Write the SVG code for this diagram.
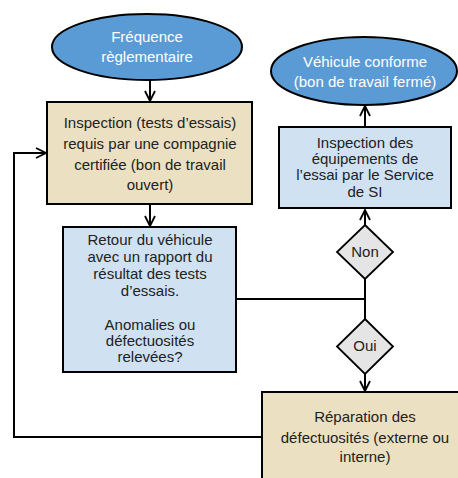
<svg xmlns="http://www.w3.org/2000/svg" width="458" height="478" viewBox="0 0 458 478">
<style>
text{font-family:"Liberation Sans",Arial,sans-serif;font-size:15px;text-anchor:middle;fill:#222}
.w{fill:#fff}
.term{fill:#5B9BD5;stroke:#000;stroke-width:2}
.tan{fill:#EBE0C1;stroke:#000;stroke-width:2}
.blue{fill:#D0E1F2;stroke:#000;stroke-width:2}
.dia{fill:#E5E5E5;stroke:#000;stroke-width:1.8}
.ln{fill:none;stroke:#000;stroke-width:2}
</style>
<defs>
<marker id="a" viewBox="0 0 12 12" refX="11" refY="6" markerWidth="12" markerHeight="12" markerUnits="userSpaceOnUse" orient="auto">
<path d="M1,1 L11,6 L1,11" fill="none" stroke="#000" stroke-width="1.8"/>
</marker>
</defs>
<rect width="458" height="478" fill="#fff"/>
<g id="connectors">
<line class="ln" x1="150" y1="80" x2="150" y2="101" marker-end="url(#a)"/>
<line class="ln" x1="150" y1="204" x2="150" y2="226" marker-end="url(#a)"/>
<line class="ln" x1="365" y1="127" x2="365" y2="106" marker-end="url(#a)"/>
<line class="ln" x1="365" y1="225" x2="365" y2="210" marker-end="url(#a)"/>
<line class="ln" x1="236" y1="299" x2="365" y2="299"/>
<line class="ln" x1="365" y1="279" x2="365" y2="319"/>
<line class="ln" x1="365" y1="374" x2="365" y2="391" marker-end="url(#a)"/>
<polyline class="ln" points="262,437 14,437 14,153 46,153" marker-end="url(#a)"/>
</g>
<g id="n1">
<ellipse class="term" cx="147" cy="47" rx="95" ry="33"/>
<text class="w" x="147" y="42">Fréquence</text>
<text class="w" x="147" y="62">règlementaire</text>
</g>
<g id="n2">
<rect class="tan" x="47" y="102" width="205" height="102"/>
<text x="150" y="128">Inspection (tests d’essais)</text>
<text x="150" y="149">requis par une compagnie</text>
<text x="150" y="170">certifiée  (bon de travail</text>
<text x="150" y="190">ouvert)</text>
</g>
<g id="n3">
<rect class="blue" x="63" y="227" width="173" height="145"/>
<text x="150" y="245">Retour du véhicule</text>
<text x="150" y="262">avec un rapport du</text>
<text x="150" y="279">résultat des tests</text>
<text x="150" y="296">d’essais.</text>
<text x="150" y="330">Anomalies ou</text>
<text x="150" y="346">défectuosités</text>
<text x="150" y="362">relevées?</text>
</g>
<g id="n4">
<ellipse class="term" cx="364" cy="71" rx="93" ry="34"/>
<text class="w" x="365" y="67">Véhicule conforme</text>
<text class="w" x="365" y="87">(bon de travail fermé)</text>
</g>
<g id="n5">
<rect class="blue" x="279" y="127" width="172" height="81"/>
<text x="365" y="148">Inspection des</text>
<text x="365" y="164">équipements de</text>
<text x="365" y="180">l’essai par le Service</text>
<text x="365" y="197">de SI</text>
</g>
<g id="n6">
<polygon class="dia" points="365,225 393,252 365,279 337,252"/>
<text x="365" y="257">Non</text>
</g>
<g id="n7">
<polygon class="dia" points="365,319 393,346.5 365,374 337,346.5"/>
<text x="365" y="351">Oui</text>
</g>
<g id="n8">
<rect class="tan" x="262" y="392" width="210" height="100"/>
<text x="365" y="422">Réparation des</text>
<text x="365" y="443">défectuosités (externe ou</text>
<text x="365" y="462">interne)</text>
</g>
</svg>
